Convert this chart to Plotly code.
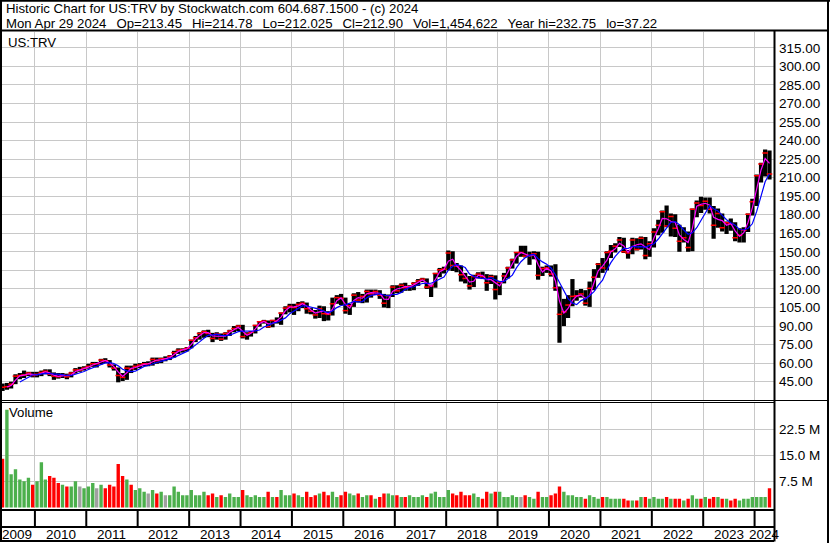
import pandas as pd
import plotly.graph_objects as go

W, H = 830, 543

# ---------------- data (monthly) ----------------
first_month = "2009-05-01"
last_month = "2024-04-01"

close = [
    40.5, 41.0, 43.0, 49.5, 50.0, 50.5, 52.0, 50.0,                                   # 2009 May-Dec
    51.0, 52.5, 53.5, 51.0, 49.5, 49.0, 50.5, 49.0, 52.0, 54.5, 54.5, 56.0,           # 2010
    57.5, 59.5, 59.5, 62.5, 62.0, 58.5, 56.0, 50.0, 48.5, 56.0, 55.5, 57.5,           # 2011
    58.5, 59.5, 59.5, 63.0, 62.0, 63.5, 63.5, 65.5, 68.5, 70.5, 71.0, 72.0,           # 2012
    78.5, 80.5, 84.0, 85.5, 84.0, 80.0, 83.5, 79.5, 84.0, 86.0, 88.0, 90.0,           # 2013
    81.5, 83.5, 85.0, 90.5, 93.5, 94.0, 89.5, 94.5, 94.0, 100.5, 104.5, 106.0,        # 2014
    105.0, 107.5, 108.5, 104.0, 102.0, 99.0, 104.0, 100.0, 99.5, 108.0, 113.0, 112.5, # 2015
    102.5, 106.5, 115.0, 111.0, 114.0, 118.0, 116.0, 118.0, 115.0, 108.5, 114.5, 121.5,  # 2016
    118.5, 123.0, 121.0, 122.0, 124.5, 126.5, 128.0, 121.5, 122.5, 132.5, 135.5, 136.0,  # 2017
    149.0, 139.0, 138.5, 131.5, 128.5, 122.5, 130.0, 132.0, 130.0, 125.0, 130.0, 119.5,  # 2018
    125.5, 130.5, 137.0, 143.5, 149.5, 149.5, 146.5, 147.0, 148.5, 131.0, 136.5, 137.0,  # 2019
    132.0, 121.0, 99.5, 101.5, 107.0, 114.0, 114.5, 116.0, 108.5, 120.5, 129.5, 140.0,   # 2020
    137.0, 149.5, 150.5, 154.5, 159.5, 150.0, 149.0, 159.5, 152.0, 161.0, 147.0, 156.5,  # 2021
    166.0, 171.5, 182.5, 171.0, 178.5, 169.0, 158.5, 161.5, 153.5, 184.5, 189.5, 187.5,  # 2022
    191.0, 184.5, 171.5, 181.0, 169.5, 173.5, 172.5, 161.5, 163.5, 167.5, 180.5, 190.5,  # 2023
    211.5, 221.0, 230.0, 213.0,                                                           # 2024 Jan-Apr
]

high = [
    43.5, 44.0, 45.0, 51.0, 52.0, 54.0, 53.0, 53.0,
    53.0, 54.0, 55.0, 55.0, 52.5, 52.0, 52.0, 51.5, 53.0, 56.0, 57.0, 57.5,
    59.5, 61.0, 61.0, 63.5, 64.0, 62.5, 59.0, 56.5, 52.0, 58.0, 58.0, 59.5,
    60.0, 61.0, 61.5, 64.5, 64.5, 64.5, 65.5, 66.5, 70.0, 72.0, 72.0, 73.0,
    79.0, 82.0, 85.0, 86.5, 87.0, 84.5, 85.0, 84.0, 85.0, 87.0, 90.0, 91.0,
    91.0, 85.0, 86.0, 91.0, 94.0, 95.0, 94.5, 95.0, 97.0, 101.0, 106.0, 108.0,
    108.0, 109.5, 110.0, 109.0, 104.5, 103.0, 106.5, 106.0, 102.0, 113.0, 115.0, 116.0,
    113.0, 108.0, 116.5, 117.5, 116.0, 119.5, 119.5, 119.5, 119.0, 116.0, 115.5, 123.0,
    123.0, 124.5, 125.0, 123.0, 125.5, 128.0, 129.0, 128.5, 123.5, 133.0, 137.0, 138.0,
    151.0, 150.5, 141.0, 139.0, 133.0, 130.5, 131.5, 133.5, 134.0, 132.0, 131.5, 131.0,
    126.5, 133.0, 138.0, 144.5, 149.5, 155.0, 155.0, 150.0, 150.5, 150.0, 138.0, 139.0,
    139.0, 140.0, 122.0, 112.0, 115.0, 128.0, 119.0, 120.0, 119.0, 126.0, 136.0, 141.0,
    145.0, 150.5, 155.5, 157.0, 162.0, 161.5, 151.5, 161.5, 161.0, 162.5, 162.0, 158.5,
    169.0, 176.0, 183.5, 187.5, 181.0, 180.5, 172.0, 170.0, 166.5, 185.0, 191.5, 194.5,
    194.0, 194.0, 187.0, 185.0, 181.0, 174.5, 177.0, 174.0, 169.0, 170.0, 181.0, 193.0,
    212.5, 222.0, 232.75, 232.0,
]

low = [
    37.5, 38.5, 39.5, 43.0, 47.0, 48.0, 49.5, 48.5,
    48.5, 49.5, 51.0, 49.5, 46.5, 47.5, 48.0, 47.0, 48.5, 51.5, 53.0, 54.0,
    55.5, 57.0, 56.5, 59.0, 60.0, 56.5, 54.0, 44.5, 45.5, 46.5, 52.0, 54.5,
    56.0, 57.5, 57.5, 58.0, 59.5, 60.0, 61.5, 62.5, 64.5, 67.5, 68.5, 69.5,
    72.0, 77.0, 79.0, 80.5, 81.0, 77.0, 79.0, 78.0, 79.0, 82.0, 85.0, 86.0,
    80.0, 79.0, 81.5, 84.0, 89.5, 92.0, 88.5, 89.0, 92.0, 91.0, 99.5, 101.0,
    99.0, 102.0, 104.5, 100.0, 99.5, 96.0, 96.5, 94.0, 94.5, 98.5, 108.0, 107.0,
    100.0, 99.0, 105.5, 109.0, 108.5, 109.0, 113.0, 115.0, 112.0, 105.0, 104.5, 113.5,
    116.5, 117.0, 118.5, 118.5, 119.0, 122.5, 125.5, 120.0, 113.5, 121.0, 129.5, 132.5,
    135.0, 134.5, 133.5, 126.0, 124.5, 119.5, 121.5, 128.5, 128.0, 118.5, 124.0, 111.5,
    115.0, 124.5, 128.5, 136.5, 140.5, 146.0, 145.5, 139.5, 144.0, 127.5, 130.5, 133.0,
    130.0, 118.5, 76.5, 90.0, 96.5, 106.0, 110.5, 113.0, 106.5, 105.5, 119.0, 129.0,
    133.0, 135.0, 145.0, 149.5, 154.0, 149.0, 144.5, 148.0, 151.0, 152.0, 144.0, 146.0,
    153.5, 163.5, 165.5, 170.0, 162.5, 162.0, 150.0, 157.5, 150.0, 150.5, 178.0, 181.5,
    184.0, 181.0, 160.5, 169.5, 166.5, 164.5, 167.0, 158.5, 157.5, 157.5, 166.0, 179.5,
    187.0, 206.0, 211.0, 208.5,
]

volume_m = [
    14, 28, 9.5, 11, 8, 7.5, 8.5, 6.5,
    7.5, 13, 8, 9, 8.5, 7, 6.5, 6, 6, 7.5, 6, 5.5,
    6, 7, 5.5, 6.5, 5.5, 6.5, 6, 12.5, 9, 8, 6.5, 5,
    5.5, 4.5, 4, 5, 4, 4.5, 3.5, 3.5, 6, 4.5, 3.5, 3.5,
    5, 3.5, 3.5, 4.5, 3.5, 4, 3, 3.5, 3, 4, 3, 3,
    5, 3.5, 3, 3.5, 3, 3, 4.5, 3, 3, 5, 3.5, 3.5,
    4, 3.5, 3, 4.5, 3, 3.5, 4, 4.5, 3.5, 4.5, 3, 3.5,
    4.5, 4, 3.5, 4, 3, 3.5, 3.5, 2.5, 3, 4, 4, 3.5,
    3.5, 3, 3, 3.5, 3, 3, 3.5, 3, 4, 4.5, 3, 3,
    5, 4, 3.5, 4.5, 3.5, 3.5, 4, 3, 2.5, 4.5, 4, 4.5,
    4.5, 3, 3, 3.5, 3, 3, 3.5, 3, 2.5, 4.5, 3, 3,
    3.5, 4, 6, 4.5, 3.5, 3.5, 3, 3, 2.5, 3.5, 3, 2.5,
    3, 3, 2.5, 2.5, 2.5, 2.5, 2, 2, 2, 3, 3, 2.5,
    3, 2.5, 2.5, 3, 2.5, 2.5, 2.5, 2, 2.5, 3.5, 2.5, 2.5,
    3, 2.5, 3, 3, 2.5, 2.5, 2, 2.5, 2, 2.5, 2.5, 3,
    3, 3, 3, 5.5,
]

price_ticks = [45, 60, 75, 90, 105, 120, 135, 150, 165, 180, 195, 210, 225, 240, 255, 270, 285, 300, 315]
volume_ticks = [7.5, 15.0, 22.5]
volume_tick_labels = ["7.5 M", "15.0 M", "22.5 M"]
years = list(range(2009, 2025))

SP = "\u00a0\u00a0\u2009"
title_line1 = "Historic Chart for US:TRV by Stockwatch.com 604.687.1500 - (c) 2024"
title_line2 = ("Mon Apr 29 2024" + SP + "Op=213.45" + SP + "Hi=214.78" + SP + "Lo=212.025" + SP +
               "Cl=212.90" + SP + "Vol=1,454,622" + SP + "Year hi=232.75" + SP + "lo=37.22")
symbol_label = "US:TRV"
volume_label = "Volume"

# ---------------- derived ----------------
months = pd.date_range(first_month, last_month, freq="MS")
mid = months + pd.Timedelta(days=15)
cs = pd.Series(close)
ma_short = cs.rolling(2).mean()
ma_long = cs.rolling(5).mean()
prev = cs.shift(1)
vol_colors = []
for i, c in enumerate(close):
    p = prev.iloc[i]
    if pd.isna(p) or c < p:
        vol_colors.append("#ff0000")
    elif c > p:
        vol_colors.append("#4cb04c")
    else:
        vol_colors.append("#a0a0a0")

x_start = pd.Timestamp("2009-04-28")
x_end = pd.Timestamp("2024-05-18")
DAY_MS = 24 * 3600 * 1000

def px(x):
    return x / W

def py(y):
    return 1 - y / H

FONT = "Arial, Liberation Sans, sans-serif"
TXT = "#000000"
GRID = "#c8c8c8"

fig = go.Figure()
fig.add_trace(go.Bar(x=mid, y=[h - l for h, l in zip(high, low)], base=low,
                     width=30 * DAY_MS, marker=dict(color="#000000", line=dict(width=0)),
                     xaxis="x", yaxis="y", hoverinfo="skip"))
fig.add_trace(go.Scatter(x=mid, y=close, mode="markers",
                         marker=dict(symbol="line-ew", size=4, line=dict(color="#ff0000", width=1.5)),
                         xaxis="x", yaxis="y", hoverinfo="skip"))
fig.add_trace(go.Scatter(x=mid, y=ma_short, mode="lines", line=dict(color="#ff00ff", width=1.2),
                         xaxis="x", yaxis="y"))
fig.add_trace(go.Scatter(x=mid, y=ma_long, mode="lines", line=dict(color="#0000ff", width=1.2),
                         xaxis="x", yaxis="y"))
fig.add_trace(go.Bar(x=mid, y=volume_m, width=24 * DAY_MS,
                     marker=dict(color=vol_colors, line=dict(width=0)),
                     xaxis="x2", yaxis="y2"))

year_bounds = [pd.Timestamp(f"{y}-01-01") for y in years[1:]]

xcommon = dict(range=[x_start, x_end], domain=[0, px(774)], tickvals=year_bounds,
               showticklabels=False, showgrid=True, gridcolor=GRID, gridwidth=1,
               zeroline=False, showline=False, ticks="")
TICKFONT = dict(family=FONT, size=13.5, color=TXT)
fig.update_layout(
    width=W, height=H, margin=dict(l=0, r=0, t=0, b=0),
    paper_bgcolor="white", plot_bgcolor="white", showlegend=False,
    barmode="overlay",
    xaxis=dict(anchor="y", **xcommon),
    xaxis2=dict(anchor="y2", matches="x", **xcommon),
    yaxis=dict(domain=[py(400), py(31.5)], range=[30.2, 328.2], side="right",
               tickvals=price_ticks, ticktext=[f"{v:.2f}" for v in price_ticks],
               showgrid=True, gridcolor=GRID, gridwidth=1, zeroline=False, showline=False,
               ticks="", ticklabelstandoff=4, tickfont=TICKFONT),
    yaxis2=dict(domain=[py(508), py(402.5)], range=[-0.14, 30.1], side="right",
                tickvals=volume_ticks, ticktext=volume_tick_labels,
                showgrid=True, gridcolor=GRID, gridwidth=1, zeroline=False, showline=False,
                ticks="", ticklabelstandoff=4, tickfont=TICKFONT),
)

shapes = []
def hline(y, x0, x1, w):
    shapes.append(dict(type="line", xref="paper", yref="paper", x0=px(x0), x1=px(x1),
                       y0=py(y), y1=py(y), line=dict(color="black", width=w)))
def vline(x, y0, y1, w):
    shapes.append(dict(type="line", xref="paper", yref="paper", x0=px(x), x1=px(x),
                       y0=py(y0), y1=py(y1), line=dict(color="black", width=w)))

hline(0.8, 0, 830, 2)
hline(30.5, 0, 829, 2)
vline(1, 0, 541, 2)
vline(828, 0, 543, 2)
vline(774.5, 30.5, 541.5, 2)
hline(400.5, 0, 828, 1)
hline(402.5, 0, 774, 1)
hline(510, 0, 774, 2)
hline(527, 0, 774, 2)
hline(541, 0, 774, 2)
for b in year_bounds:
    shapes.append(dict(type="line", xref="x2", yref="paper", x0=b, x1=b,
                       y0=py(510), y1=py(527), line=dict(color="black", width=2)))
fig.update_layout(shapes=shapes)

ann = []
def text(x, y, s, size=13.2):
    ann.append(dict(xref="paper", yref="paper", x=px(x), y=py(y), text=s, showarrow=False,
                    xanchor="left", yanchor="middle", font=dict(family=FONT, size=size, color=TXT)))
text(4, 8.5, title_line1)
text(4, 23.5, title_line2)
text(6, 42, symbol_label)
text(7, 413, volume_label)
for y in years:
    s = max(pd.Timestamp(f"{y}-01-01"), x_start)
    e = min(pd.Timestamp(f"{y + 1}-01-01"), x_end)
    m = s + (e - s) / 2
    ann.append(dict(xref="x2", yref="paper", x=m, y=py(534.5), text=str(y), showarrow=False,
                    xanchor="center", yanchor="middle", font=dict(family=FONT, size=13.5, color=TXT)))
fig.update_layout(annotations=ann)

fig.write_html("out.html", config={"displayModeBar": False, "staticPlot": True},
               post_script="document.body.style.margin='0';document.body.style.overflow='hidden';")
